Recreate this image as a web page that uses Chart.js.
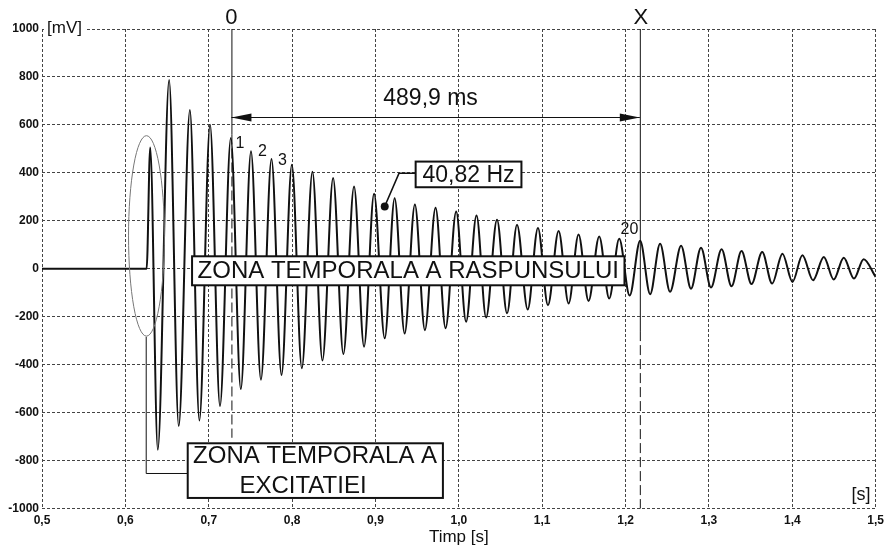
<!DOCTYPE html>
<html>
<head>
<meta charset="utf-8">
<script src="https://cdn.jsdelivr.net/npm/chart.js@4.4.1/dist/chart.umd.min.js"></script>
<style>
  html, body { margin: 0; padding: 0; background: #fff; }
  #wrap { width: 889px; height: 551px; position: relative; }
</style>
</head>
<body>
<div id="wrap"><canvas id="signalChart"></canvas></div>
<script>
// values: time [s], voltage [mV]
const restTimes = [0.5, 0.6255];
const restValues = [0, 0];

const peakTimes = [0.6298, 0.6525, 0.6774, 0.7016, 0.7265, 0.7507, 0.7753, 0.7997, 0.8244, 0.8492,
    0.8743, 0.8983, 0.9230, 0.9473, 0.9721, 0.9968, 1.0212, 1.0458, 1.0698, 1.0949,
    1.1197, 1.1436, 1.1684, 1.1924, 1.2175, 1.2414, 1.2666, 1.2905, 1.3152, 1.3391,
    1.3639, 1.3882, 1.4121, 1.4378, 1.4617, 1.4856];
const peakValues = [506, 787, 662, 601, 545, 490, 458, 434, 405, 379,
    343, 313, 294, 268, 254, 239, 222, 204, 184, 170,
    157, 143, 135, 125, 117, 104, 96, 88, 81, 74,
    70, 63, 56, 49, 46, 40];

const troughTimes = [0.6389, 0.6640, 0.6888, 0.7135, 0.7385, 0.7626, 0.7873, 0.8117, 0.8364, 0.8615,
    0.8863, 0.9111, 0.9350, 0.9593, 0.9841, 1.0087, 1.0327, 1.0578, 1.0826, 1.1069,
    1.1317, 1.1556, 1.1804, 1.2049, 1.2295, 1.2534, 1.2785, 1.3025, 1.3271, 1.3511,
    1.3758, 1.4002, 1.4249, 1.4497, 1.4740];
const troughValues = [-755, -656, -633, -573, -502, -463, -443, -415, -383, -356,
    -325, -290, -270, -256, -248, -221, -203, -186, -170, -152,
    -145, -134, -124, -112, -106, -96, -83, -78, -73, -64,
    -62, -55, -48, -45, -41];

const endTime = 1.5;
const endValue = -34;

// cursors and measured values
const cursorStart = 0.7272;
const cursorEnd = 1.2171;
const periodLabel = '489,9 ms';
const freqLabel = '40,82 Hz';

function buildSignal() {
    const pts = [];
    restTimes.forEach((t, i) => pts.push({ x: t, y: restValues[i] }));
    peakTimes.forEach((t, i) => {
        pts.push({ x: t, y: peakValues[i] });
        if (i < troughTimes.length) {
            pts.push({ x: troughTimes[i], y: troughValues[i] });
        }
    });
    pts.push({ x: endTime, y: endValue });
    return pts;
}

const FONT = '"Liberation Sans", Arial, sans-serif';

function label(ctx, str, xPos, yPos, size, align) {
    ctx.font = size + 'px ' + FONT;
    ctx.textAlign = align || 'center';
    ctx.textBaseline = 'middle';
    ctx.fillStyle = '#111';
    ctx.fillText(str, xPos, yPos);
}

function box(ctx, x1, y1, x2, y2) {
    ctx.fillStyle = '#fff';
    ctx.fillRect(x1, y1, x2 - x1, y2 - y1);
    ctx.lineWidth = 2;
    ctx.strokeStyle = '#111';
    ctx.strokeRect(x1, y1, x2 - x1, y2 - y1);
}

function arrowHead(ctx, tipX, tipY, dir) {
    ctx.beginPath();
    ctx.moveTo(tipX, tipY);
    ctx.lineTo(tipX + dir * 20, tipY - 4);
    ctx.lineTo(tipX + dir * 20, tipY + 4);
    ctx.closePath();
    ctx.fill();
}

const overlay = {
    id: 'overlay',
    afterDatasetsDraw(chart) {
        const { ctx, chartArea: area, scales: { x, y } } = chart;
        const px = t => x.getPixelForValue(t);
        const py = v => y.getPixelForValue(v);
        ctx.save();

        // ellipse round the excitation
        ctx.strokeStyle = '#777';
        ctx.lineWidth = 1;
        ctx.beginPath();
        ctx.ellipse(px(0.6253), py(137), px(0.6253 + 0.0215) - px(0.6253), py(137 - 418) - py(137), 0, 0, Math.PI * 2);
        ctx.stroke();

        // leader to the excitation box
        ctx.strokeStyle = '#111';
        ctx.beginPath();
        ctx.moveTo(px(0.6250), py(-284));
        ctx.lineTo(px(0.6250), py(-854));
        ctx.lineTo(px(0.6748), py(-854));
        ctx.stroke();

        // cursor 0
        ctx.lineWidth = 1;
        ctx.beginPath();
        ctx.moveTo(px(cursorStart) + 0.5, area.top);
        ctx.lineTo(px(cursorStart) + 0.5, py(560));
        ctx.stroke();
        ctx.setLineDash([10, 4]);
        ctx.beginPath();
        ctx.moveTo(px(cursorStart) + 0.5, py(560));
        ctx.lineTo(px(cursorStart) + 0.5, py(-705));
        ctx.stroke();
        ctx.setLineDash([]);

        // cursor X
        ctx.beginPath();
        ctx.moveTo(px(cursorEnd) + 0.5, area.top);
        ctx.lineTo(px(cursorEnd) + 0.5, py(-260));
        ctx.stroke();
        ctx.setLineDash([10, 4]);
        ctx.beginPath();
        ctx.moveTo(px(cursorEnd) + 0.5, py(-260));
        ctx.lineTo(px(cursorEnd) + 0.5, area.bottom);
        ctx.stroke();
        ctx.setLineDash([]);

        label(ctx, '0', px(cursorStart), area.top - 11, 22);
        label(ctx, 'X', px(cursorEnd) + 1, area.top - 11, 22);

        // double arrow between cursors
        const ay = Math.round(py(632)) + 0.5;
        ctx.beginPath();
        ctx.moveTo(px(cursorStart), ay);
        ctx.lineTo(px(cursorEnd), ay);
        ctx.stroke();
        ctx.fillStyle = '#111';
        arrowHead(ctx, px(cursorStart), ay, 1);
        arrowHead(ctx, px(cursorEnd), ay, -1);
        label(ctx, periodLabel, px(0.9661), py(709), 23);

        // period numbers
        label(ctx, '1', px(0.7375), py(522), 16);
        label(ctx, '2', px(0.7645), py(490), 16);
        label(ctx, '3', px(0.7885), py(451), 16);
        label(ctx, '20', px(1.2047), py(164), 16);

        // frequency callout
        ctx.strokeStyle = '#111';
        ctx.lineWidth = 1.5;
        ctx.beginPath();
        ctx.moveTo(px(0.9111), py(260));
        ctx.lineTo(px(0.9282), py(398));
        ctx.lineTo(px(0.9482), py(398));
        ctx.stroke();
        ctx.fillStyle = '#111';
        ctx.beginPath();
        ctx.arc(px(0.9111), py(260), 4, 0, Math.PI * 2);
        ctx.fill();
        box(ctx, px(0.9482), py(447), px(1.0751), py(340));
        label(ctx, freqLabel, (px(0.9482) + px(1.0751)) / 2, (py(447) + py(340)) / 2 + 1, 23);

        // response zone
        box(ctx, px(0.6800), py(52), px(1.1987), py(-69));
        label(ctx, 'ZONA TEMPORALA A RASPUNSULUI', (px(0.6800) + px(1.1987)) / 2, (py(52) + py(-69)) / 2 + 1, 24);

        // excitation zone
        box(ctx, px(0.6748), py(-728), px(0.9809), py(-956));
        label(ctx, 'ZONA TEMPORALA A', px(0.8276), py(-784), 24);
        label(ctx, 'EXCITATIEI', px(0.8131), py(-909), 24);

        // units
        ctx.fillStyle = '#fff';
        ctx.fillRect(area.left + 2, area.top - 8, 42, 16);
        label(ctx, '[mV]', area.left + 5, area.top - 1, 17, 'left');
        label(ctx, '[s]', px(1.4823), py(-942), 18);

        ctx.restore();
    }
};

const tickFont = { family: FONT, size: 12, weight: 'bold' };

const ctx = document.getElementById('signalChart').getContext('2d');
const signalChart = new Chart(ctx, {
    type: 'line',
    data: {
        datasets: [{
            label: 'Semnal',
            data: buildSignal(),
            borderColor: '#111',
            borderWidth: 2,
            pointRadius: 0,
            fill: false,
            cubicInterpolationMode: 'monotone',
            borderJoinStyle: 'round'
        }]
    },
    options: {
        responsive: true,
        maintainAspectRatio: false,
        animation: false,
        layout: { padding: { top: 29, right: 11, left: 0, bottom: 0 } },
        plugins: {
            legend: { display: false },
            tooltip: { enabled: false }
        },
        scales: {
            x: {
                type: 'linear',
                min: 0.5,
                max: 1.5,
                ticks: {
                    stepSize: 0.1,
                    padding: 5,
                    color: '#111',
                    font: tickFont,
                    maxRotation: 0,
                    autoSkip: false,
                    callback: v => v.toFixed(1).replace('.', ',')
                },
                grid: { color: '#444', drawTicks: false, lineWidth: 1 },
                border: { display: false, dash: [3, 2] },
                title: {
                    display: true,
                    text: 'Timp [s]',
                    color: '#111',
                    font: { family: FONT, size: 17 },
                    padding: { top: 0, bottom: 3 }
                },
                afterFit: axis => { axis.height = 42.5; }
            },
            y: {
                min: -1000,
                max: 1000,
                ticks: {
                    stepSize: 200,
                    padding: 3,
                    color: '#111',
                    font: tickFont,
                    callback: v => String(v)
                },
                grid: { color: '#444', drawTicks: false, lineWidth: 1 },
                border: { display: false, dash: [3, 2] },
                afterFit: axis => { axis.width = 42; }
            }
        }
    },
    plugins: [overlay]
});
</script>
</body>
</html>
